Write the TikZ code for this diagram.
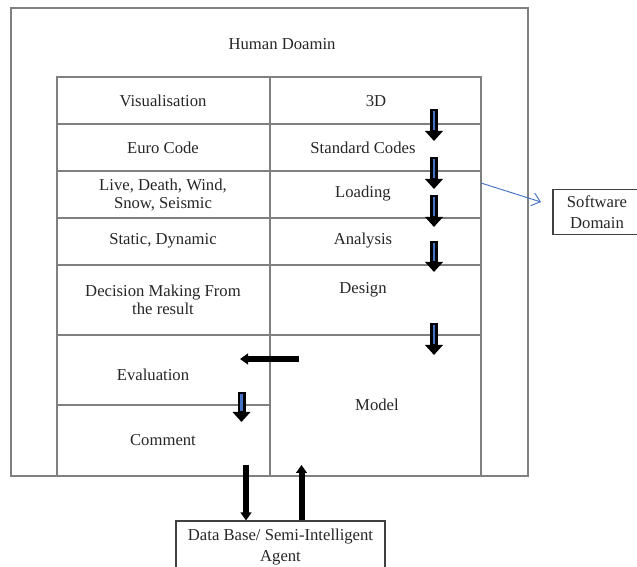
\documentclass[tikz,border=0pt]{standalone}
\usepackage{fontspec}
\setmainfont{Liberation Serif}
\usetikzlibrary{arrows.meta}

\definecolor{officeblue}{RGB}{68,114,196}

\begin{document}
\begin{tikzpicture}[x=0.75pt,y=-0.75pt,
  frame/.style={draw=black!50, line width=0.9pt},
  lbl/.style={font=\fontsize{12.5}{13.5}\selectfont, text=black!85, align=center, inner sep=0pt},
  box/.style={lbl, font=\fontsize{12.5}{15.5}\selectfont, draw=black!75, line width=0.8pt},
  flow/.style={line width=6pt, -{Triangle[width=13pt,length=7.5pt]}},
  flowcore/.style={officeblue, line width=1.6pt},
  thick arrow/.style={line width=4.5pt, -{Triangle[width=8pt,length=6pt]}}]
\useasboundingbox (0,0) rectangle (637,567);

% human domain and the table
\draw[frame] (11,8) rectangle (528,476);
\draw[frame] (57,77) rectangle (481,476);
\draw[frame] (270,77)--(270,476);
\foreach \y in {124,171,218,265,335} \draw[frame] (57,\y)--(481,\y);
\draw[frame] (57,405)--(270,405);

\node[lbl] (human) at (282,44) {Human Doamin};
\node[lbl] (vis) at (163,101) {Visualisation};
\node[lbl] (threed) at (376,101) {3D};
\node[lbl] (euro) at (163,148) {Euro Code};
\node[lbl] (codes) at (363,148) {Standard Codes};
\node[lbl] (loads) at (163,195) {Live, Death, Wind,\\Snow, Seismic};
\node[lbl] (loading) at (363,194) {Loading};
\node[lbl] (static) at (163,241) {Static, Dynamic};
\node[lbl] (analysis) at (363,241) {Analysis};
\node[lbl] (decision) at (163,300) {Decision Making From\\the result};
\node[lbl] (design) at (363,290) {Design};
\node[lbl] (eval) at (153,375) {Evaluation};
\node[lbl] (comment) at (163,440) {Comment};
\node[lbl] (model) at (377,405) {Model};

% outside boxes
\node[box, minimum width=88*0.75pt, minimum height=45*0.75pt] (soft) at (597,212) {Software\\Domain};
\node[box, minimum width=209*0.75pt, minimum height=52*0.75pt] (data) at (280.5,547) {Data Base/ Semi-Intelligent\\Agent};

% flow arrows down the right column
\foreach \t/\b in {109/141,157/189,195/227,241/272,323/355}{
  \draw[flow] (434,\t)--(434,\b);
  \draw[flowcore] (434,\t+2)--(434,\b-11);
}
\draw[flow] (241.5,392)--(241.5,422);
\draw[flowcore] (241.5,394)--(241.5,411);
\draw[thick arrow] (299,359)--(240,359);

% to and from the data base
\coordinate (down) at (246,465);
\coordinate (up) at (301.5,465);
\draw[thick arrow] (down)--(down |- data.north);
\draw[thick arrow] (up |- data.north)--(up);

% to software domain
\coordinate (edge) at (481,183);
\coordinate (swtip) at (541,202);
\draw[officeblue, line width=0.7pt, -{Straight Barb[length=6pt,width=10pt]}] (edge)--(swtip);
\end{tikzpicture}
\end{document}
